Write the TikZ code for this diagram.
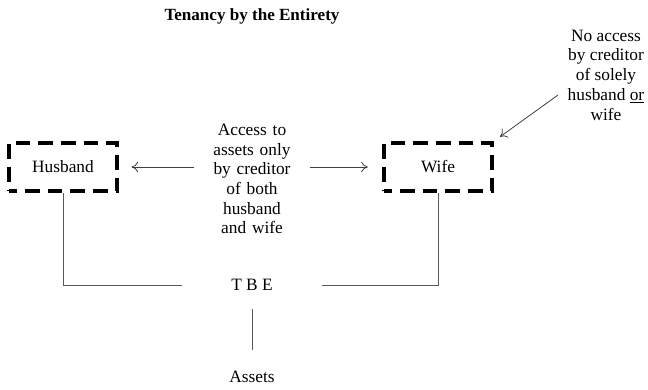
\documentclass[tikz,border=0pt]{standalone}
\usepackage{fontspec}
\setmainfont{Liberation Serif}
\usetikzlibrary{arrows.meta}
\begin{document}
\begin{tikzpicture}[x=0.75pt,y=-0.75pt,
  every node/.style={font=\fontsize{13pt}{14.8pt}\selectfont, inner sep=0pt},
  dbox/.style={draw=black, line width=2.3pt, dash pattern=on 11pt off 6pt, dash phase=5pt, minimum width=81pt, minimum height=36pt},
  conn/.style={draw=black!65, line width=0.6pt},
  arr/.style={draw=black!75, line width=0.6pt, -{To[length=5pt,width=8pt]}}]
\useasboundingbox (0,0) rectangle (648,389);
\node[font=\fontsize{12.8pt}{14.8pt}\selectfont\bfseries] (title) at (252,16) {Tenancy by the Entirety};
\node[dbox] (hus) at (63,167) {Husband};
\node[dbox] (wife) at (438,167) {Wife};
\node[align=center, text width=90pt] (mid) at (252,179) {Access to\\assets only\\by creditor\\of both\\husband\\and wife};
\node[align=center] (note) at (606,75) {No access\\by creditor\\of solely\\husband \underline{or}\\wife};
\node[minimum width=105pt, minimum height=36pt] (tbe) at (252,285) {T B E};
\node[minimum height=40.5pt] (assets) at (252,377) {Assets};
\coordinate (ns) at (558,95);
\draw[arr, shorten <=-2pt, shorten >=9.75pt] (mid.west |- hus.east) -- (hus.east);
\draw[arr, shorten <=-2pt, shorten >=11pt] (mid.east |- wife.west) -- (wife.west);
\draw[arr, shorten >=6pt] (ns) -- (wife.north east);
\draw[conn] (hus.south) |- (tbe.west);
\draw[conn] (wife.south) |- (tbe.east);
\draw[conn] (tbe.south) -- (assets.north);
\end{tikzpicture}
\end{document}
